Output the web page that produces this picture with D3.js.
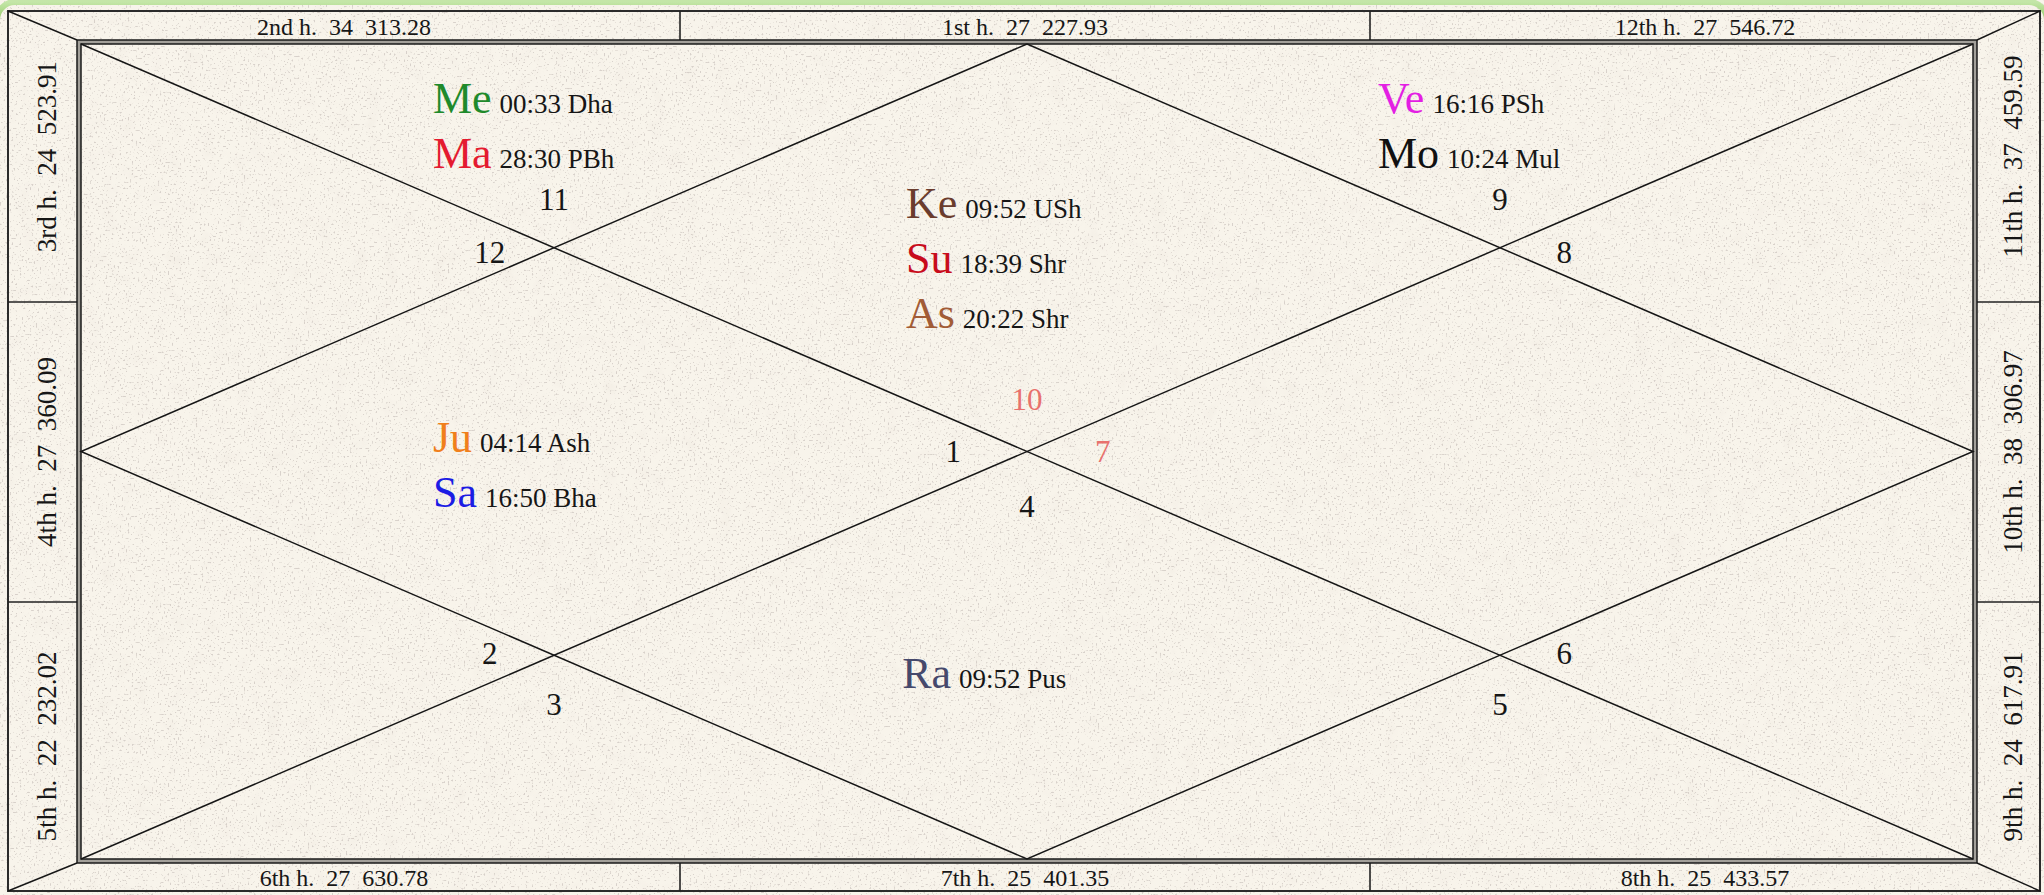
<!DOCTYPE html>
<html>
<head>
<meta charset="utf-8">
<script src="https://cdn.jsdelivr.net/npm/d3@7"></script>
<style>
    html, body { margin: 0; padding: 0; background: #f5f0e6; overflow: hidden; }
    svg { display: block; }
    text { font-family: "Liberation Serif", "Times New Roman", serif; white-space: pre; }
</style>
</head>
<body>
<div id="chart"></div>
<script>
'use strict';

// Houses 1..12
const houseNames = ['1st h.', '2nd h.', '3rd h.', '4th h.', '5th h.', '6th h.', '7th h.', '8th h.', '9th h.', '10th h.', '11th h.', '12th h.'];
const houseCounts = [27, 34, 24, 27, 22, 27, 25, 25, 24, 38, 37, 27];
const houseValues = ['227.93', '313.28', '523.91', '360.09', '232.02', '630.78', '401.35', '433.57', '617.91', '306.97', '459.59', '546.72'];
const houseSigns = [10, 11, 12, 1, 2, 3, 4, 5, 6, 7, 8, 9];

// Planets
const planetNames = ['Ke', 'Su', 'As', 'Me', 'Ma', 'Ju', 'Sa', 'Ra', 'Ve', 'Mo'];
const planetDegrees = ['09:52', '18:39', '20:22', '00:33', '28:30', '04:14', '16:50', '09:52', '16:16', '10:24'];
const planetNakshatras = ['USh', 'Shr', 'Shr', 'Dha', 'PBh', 'Ash', 'Bha', 'Pus', 'PSh', 'Mul'];
const planetHouses = [1, 1, 1, 2, 2, 4, 4, 7, 12, 12];

class NorthChart {

    // Configs
    w = 2044;
    h = 895;

    constructor(_ref) {
        this.parent = _ref;
        this.initVis();
    }

    initVis() {
        const vis = this;

        vis.svg = d3.select(`#${vis.parent}`)
            .append('svg')
            .attr('width', vis.w)
            .attr('height', vis.h);

        // Frame geometry
        vis.outer = {x0: 8, y0: 11, x1: 2040, y1: 891};
        vis.inner = {x0: 77, y0: 40, x1: 1977, y1: 863};
        vis.gap = 4;
        vis.stripX = [vis.outer.x0, 680, 1370, vis.outer.x1];
        vis.stripY = [vis.outer.y0, 302, 602, vis.outer.y1];

        // Scales over the inner square (0..1 in both directions)
        vis.x = d3.scaleLinear().domain([0, 1]).range([vis.inner.x0 + vis.gap, vis.inner.x1 - vis.gap]);
        vis.y = d3.scaleLinear().domain([0, 1]).range([vis.inner.y0 + vis.gap, vis.inner.y1 - vis.gap]);

        // Styles
        vis.ink = '#161616';
        vis.planetColors = {
            Ke: '#6b3c2d', Su: '#c80c1c', As: '#a25c36', Me: '#1f8a2b', Ma: '#e41b30',
            Ju: '#f07f1c', Sa: '#1c1ce4', Ra: '#46496c', Ve: '#e31fe3', Mo: '#111111'
        };
        vis.highlightHouses = [1, 10];
        vis.highlightColor = '#e8716d';
        vis.lineStep = 55;

        // Where each house's sign number and planet block sit, in inner-square units
        vis.signAnchor = {
            1: [0.5, 0.436], 2: [0.25, 0.19], 3: [0.216, 0.255], 4: [0.461, 0.5],
            5: [0.216, 0.747], 6: [0.25, 0.81], 7: [0.5, 0.567], 8: [0.75, 0.81],
            9: [0.784, 0.747], 10: [0.54, 0.5], 11: [0.784, 0.255], 12: [0.75, 0.19]
        };
        vis.planetAnchor = {
            1: [0.436, 0.2135], 2: [0.186, 0.085], 3: [0.03, 0.3], 4: [0.186, 0.5],
            5: [0.03, 0.65], 6: [0.186, 0.88], 7: [0.434, 0.79], 8: [0.686, 0.88],
            9: [0.85, 0.65], 10: [0.686, 0.5], 11: [0.85, 0.3], 12: [0.6855, 0.085]
        };

        vis.buildPaper();
        vis.buildFrame();
        vis.buildLines();
        vis.buildStrips();
        vis.buildSigns();
        vis.buildPlanets();
    }

    /*
    buildPaper
     */
    buildPaper() {
        const vis = this;
        const defs = vis.svg.append('defs');

        // Fine specks
        const grain = defs.append('filter')
            .attr('id', 'grain')
            .attr('x', 0).attr('y', 0).attr('width', '100%').attr('height', '100%');
        grain.append('feTurbulence')
            .attr('type', 'fractalNoise')
            .attr('baseFrequency', 0.5)
            .attr('numOctaves', 2)
            .attr('seed', 11);
        grain.append('feColorMatrix')
            .attr('type', 'matrix')
            .attr('values', '0 0 0 0 0.52  0 0 0 0 0.47  0 0 0 0 0.44  0 0 0 9 -5.6');

        // Soft warm mottling
        const blotch = defs.append('filter')
            .attr('id', 'blotch')
            .attr('x', 0).attr('y', 0).attr('width', '100%').attr('height', '100%');
        blotch.append('feTurbulence')
            .attr('type', 'fractalNoise')
            .attr('baseFrequency', 0.06)
            .attr('numOctaves', 3)
            .attr('seed', 4);
        blotch.append('feColorMatrix')
            .attr('type', 'matrix')
            .attr('values', '0 0 0 0 0.80  0 0 0 0 0.74  0 0 0 0 0.68  0 0 0 1.8 -0.9');

        const green = defs.append('linearGradient')
            .attr('id', 'greenEdge')
            .attr('x1', 0).attr('y1', 0).attr('x2', 0).attr('y2', 0.02);
        green.append('stop').attr('offset', 0).attr('stop-color', '#c4e6a8');
        green.append('stop').attr('offset', 1).attr('stop-color', '#8cc65e');

        vis.svg.append('rect')
            .attr('width', vis.w).attr('height', vis.h)
            .attr('fill', '#f8f4eb');
        vis.svg.append('rect')
            .attr('width', vis.w).attr('height', vis.h)
            .attr('filter', 'url(#blotch)')
            .attr('opacity', 0.3);
        vis.svg.append('rect')
            .attr('width', vis.w).attr('height', vis.h)
            .attr('filter', 'url(#grain)')
            .attr('opacity', 0.55);

        // Green edge of the surrounding panel
        vis.svg.append('rect')
            .attr('x', -3).attr('y', 2)
            .attr('width', vis.w + 6).attr('height', vis.h + 200)
            .attr('rx', 18)
            .attr('fill', 'none')
            .attr('stroke', 'url(#greenEdge)')
            .attr('stroke-width', 6);
    }

    /*
    buildFrame
     */
    buildFrame() {
        const vis = this;
        const o = vis.outer, i = vis.inner, g = vis.gap;

        vis.frameG = vis.svg.append('g').attr('class', 'frameG');

        vis.frameG.append('rect')
            .attr('x', o.x0).attr('y', o.y0)
            .attr('width', o.x1 - o.x0).attr('height', o.y1 - o.y0)
            .attr('fill', 'none')
            .attr('stroke', '#2b2b2b')
            .attr('stroke-width', 2);

        // Corner diagonals
        const corners = [
            [[o.x0, o.y0], [i.x0, i.y0]],
            [[o.x1, o.y0], [i.x1, i.y0]],
            [[o.x0, o.y1], [i.x0, i.y1]],
            [[o.x1, o.y1], [i.x1, i.y1]]
        ];
        vis.frameG.selectAll('.corner')
            .data(corners)
            .join('line')
            .attr('class', 'corner')
            .attr('x1', d => d[0][0]).attr('y1', d => d[0][1])
            .attr('x2', d => d[1][0]).attr('y2', d => d[1][1])
            .attr('stroke', vis.ink)
            .attr('stroke-width', 1.4);

        // Strip dividers
        const dividers = [];
        vis.stripX.slice(1, 3).forEach(x => {
            dividers.push([x, o.y0, x, i.y0]);
            dividers.push([x, i.y1, x, o.y1]);
        });
        vis.stripY.slice(1, 3).forEach(y => {
            dividers.push([o.x0, y, i.x0, y]);
            dividers.push([i.x1, y, o.x1, y]);
        });
        vis.frameG.selectAll('.divider')
            .data(dividers)
            .join('line')
            .attr('class', 'divider')
            .attr('x1', d => d[0]).attr('y1', d => d[1])
            .attr('x2', d => d[2]).attr('y2', d => d[3])
            .attr('stroke', '#222')
            .attr('stroke-width', 1.6);

        // Double border of the chart square
        vis.frameG.append('rect')
            .attr('x', i.x0 + g / 2).attr('y', i.y0 + g / 2)
            .attr('width', i.x1 - i.x0 - g).attr('height', i.y1 - i.y0 - g)
            .attr('fill', 'none')
            .attr('stroke', '#a3a09a')
            .attr('stroke-width', g);
        [0, g].forEach(off => {
            vis.frameG.append('rect')
                .attr('x', i.x0 + off).attr('y', i.y0 + off)
                .attr('width', i.x1 - i.x0 - 2 * off).attr('height', i.y1 - i.y0 - 2 * off)
                .attr('fill', 'none')
                .attr('stroke', '#1a1a1a')
                .attr('stroke-width', 1.5);
        });
    }

    /*
    buildLines
     */
    buildLines() {
        const vis = this;
        const line = d3.line().x(d => vis.x(d[0])).y(d => vis.y(d[1]));

        const paths = [
            [[0, 0], [1, 1]],
            [[0, 1], [1, 0]],
            [[0.5, 0], [1, 0.5], [0.5, 1], [0, 0.5], [0.5, 0]]
        ];
        vis.svg.append('g')
            .attr('class', 'linesG')
            .selectAll('path')
            .data(paths)
            .join('path')
            .attr('d', line)
            .attr('fill', 'none')
            .attr('stroke', vis.ink)
            .attr('stroke-width', 1.5);
    }

    /*
    buildStrips
     */
    buildStrips() {
        const vis = this;
        const label = k => `${houseNames[k - 1]}  ${houseCounts[k - 1]}  ${houseValues[k - 1]}`;
        const midX = s => (vis.stripX[s] + vis.stripX[s + 1]) / 2;
        const midY = s => (vis.stripY[s] + vis.stripY[s + 1]) / 2;

        const slots = [];
        [2, 1, 12].forEach((k, s) => slots.push({k, x: midX(s), y: 35, r: 0, size: 24}));
        [6, 7, 8].forEach((k, s) => slots.push({k, x: midX(s), y: 886, r: 0, size: 24}));
        [3, 4, 5].forEach((k, s) => slots.push({k, x: 56, y: midY(s), r: -90, size: 27}));
        [11, 10, 9].forEach((k, s) => slots.push({k, x: 2022, y: midY(s), r: -90, size: 27}));

        vis.svg.append('g')
            .attr('class', 'stripsG')
            .selectAll('text')
            .data(slots)
            .join('text')
            .attr('xml:space', 'preserve')
            .attr('transform', d => `translate(${d.x},${d.y}) rotate(${d.r})`)
            .attr('text-anchor', 'middle')
            .attr('font-size', d => d.size)
            .attr('fill', vis.ink)
            .text(d => label(d.k));
    }

    /*
    buildSigns
     */
    buildSigns() {
        const vis = this;
        const data = houseSigns.map((s, idx) => ({house: idx + 1, sign: s}));

        vis.svg.append('g')
            .attr('class', 'signsG')
            .selectAll('text')
            .data(data)
            .join('text')
            .attr('x', d => vis.x(vis.signAnchor[d.house][0]))
            .attr('y', d => vis.y(vis.signAnchor[d.house][1]))
            .attr('dy', '0.35em')
            .attr('text-anchor', 'middle')
            .attr('font-size', 31)
            .attr('fill', d => vis.highlightHouses.includes(d.house) ? vis.highlightColor : vis.ink)
            .text(d => d.sign);
    }

    /*
    buildPlanets
     */
    buildPlanets() {
        const vis = this;
        const seen = {};
        const data = planetNames.map((p, idx) => {
            const house = planetHouses[idx];
            seen[house] = (seen[house] || 0) + 1;
            return {name: p, deg: planetDegrees[idx], nak: planetNakshatras[idx], house, row: seen[house] - 1};
        });

        const texts = vis.svg.append('g')
            .attr('class', 'planetsG')
            .selectAll('text')
            .data(data)
            .join('text')
            .attr('xml:space', 'preserve')
            .attr('x', d => vis.x(vis.planetAnchor[d.house][0]))
            .attr('y', d => vis.y(vis.planetAnchor[d.house][1]) + d.row * vis.lineStep);
        texts.append('tspan')
            .attr('font-size', 44)
            .attr('fill', d => vis.planetColors[d.name])
            .text(d => d.name);
        texts.append('tspan')
            .attr('dx', 8)
            .attr('font-size', 27)
            .attr('fill', vis.ink)
            .text(d => `${d.deg} ${d.nak}`);
    }
}

new NorthChart('chart');
</script>
</body>
</html>
